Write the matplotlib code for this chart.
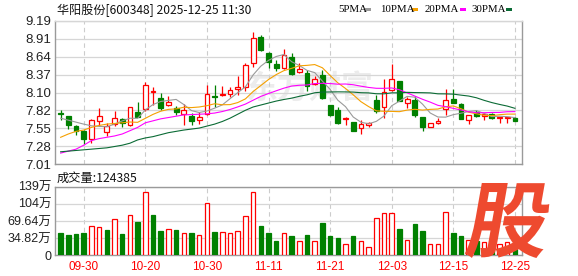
import matplotlib
matplotlib.use("Agg")
import matplotlib.pyplot as plt
from matplotlib.patches import Rectangle, PathPatch
from matplotlib.textpath import TextPath
from matplotlib.font_manager import FontProperties
import matplotlib.transforms as mtrans

plt.rcParams['font.family'] = ['Liberation Sans', 'Noto Sans CJK SC', 'DejaVu Sans']

# ---------------- data ----------------
title = "华阳股份[600348] 2025-12-25 11:30"
volume_title = "成交量:124385"

opens = [7.79, 7.74, 7.59, 7.509, 7.394, 7.665, 7.499, 7.624, 7.695, 7.604,
         7.805, 7.845, 8.11, 8.016, 7.905, 7.87, 7.78, 7.75, 7.675, 7.78,
         8.051, 8.056, 8.081, 8.146, 8.176, 8.543, 8.944, 8.703, 8.528, 8.478,
         8.634, 8.416, 8.39, 8.224, 8.36, 7.905, 7.834, 7.693, 7.647, 7.556,
         7.61, 7.986, 7.885, 8.138, 8.274, 7.936, 7.986, 7.733, 7.582, 7.642,
         7.85, 8.0, 7.92, 7.683, 7.80, 7.745, 7.768, 7.715, 7.708, 7.708]
highs = [7.84, 7.74, 7.60, 7.534, 7.695, 7.86, 7.644, 7.815, 7.715, 7.885,
         7.95, 8.257, 8.187, 8.091, 8.046, 7.89, 7.925, 7.795, 7.80, 8.217,
         8.217, 8.20, 8.176, 8.347, 8.553, 9.02, 8.979, 8.72, 8.593, 8.764,
         8.694, 8.543, 8.44, 8.35, 8.44, 7.915, 7.875, 7.733, 7.65, 7.683,
         7.657, 8.062, 8.30, 8.532, 8.28, 8.037, 8.047, 7.733, 7.642, 7.708,
         8.148, 8.148, 7.935, 7.76, 7.83, 7.79, 7.783, 7.722, 7.727, 7.723]
lows = [7.675, 7.55, 7.45, 7.323, 7.34, 7.59, 7.439, 7.594, 7.574, 7.594,
        7.725, 7.815, 7.915, 7.84, 7.895, 7.765, 7.614, 7.61, 7.625, 7.765,
        7.875, 8.05, 8.026, 8.066, 8.116, 8.487, 8.728, 8.467, 8.427, 8.46,
        8.36, 8.40, 8.128, 8.214, 8.0, 7.743, 7.622, 7.607, 7.52, 7.465,
        7.582, 7.794, 7.708, 8.128, 7.97, 7.86, 7.723, 7.52, 7.58, 7.622,
        7.76, 7.946, 7.693, 7.622, 7.73, 7.683, 7.70, 7.642, 7.642, 7.665]
closes = [7.78, 7.614, 7.514, 7.389, 7.675, 7.74, 7.584, 7.71, 7.634, 7.875,
          7.735, 8.22, 8.12, 7.87, 7.956, 7.81, 7.83, 7.66, 7.725, 8.071,
          8.026, 8.076, 8.131, 8.181, 8.518, 8.929, 8.743, 8.568, 8.478, 8.668,
          8.38, 8.457, 8.198, 8.305, 8.02, 7.76, 7.632, 7.708, 7.52, 7.625,
          7.635, 7.82, 8.113, 8.30, 7.976, 7.996, 7.76, 7.582, 7.632, 7.672,
          7.986, 7.946, 7.693, 7.76, 7.74, 7.77, 7.708, 7.72, 7.725, 7.672]
# volume in 万
volumes = [46.2, 42.2, 44.2, 46.2, 59.6, 57.6, 52.2, 73.7, 44.2, 81.7,
           68.3, 127.9, 82.4, 50.2, 53.6, 52.2, 45.5, 46.2, 41.5, 105.8,
           48.2, 47.5, 45.5, 49.6, 79.7, 127.9, 60.3, 46.2, 28.1, 45.5,
           40.2, 29.5, 42.2, 29.5, 66.3, 40.2, 34.2, 23.4, 40.2, 29.5,
           17.4, 75.7, 85.7, 85.7, 54.2, 31.5, 64.3, 50.2, 23.4, 23.4,
           87.7, 46.2, 40.2, 32.0, 30.0, 26.1, 25.0, 22.0, 27.5, 12.44]

ma5 = [7.71, 7.68, 7.65, 7.62, 7.594, 7.586, 7.580, 7.620, 7.669, 7.709,
       7.708, 7.835, 7.917, 7.964, 7.980, 7.995, 7.917, 7.825, 7.796, 7.819,
       7.862, 7.912, 8.006, 8.097, 8.186, 8.367, 8.500, 8.588, 8.647, 8.677,
       8.567, 8.510, 8.436, 8.402, 8.272, 8.148, 7.983, 7.885, 7.728, 7.649,
       7.624, 7.662, 7.743, 7.899, 7.969, 8.041, 8.029, 7.923, 7.789, 7.728,
       7.726, 7.764, 7.786, 7.811, 7.825, 7.782, 7.734, 7.740, 7.733, 7.719]
ma10 = [7.42, 7.47, 7.51, 7.53, 7.57, 7.60, 7.62, 7.63, 7.64, 7.652,
        7.647, 7.708, 7.768, 7.816, 7.844, 7.851, 7.876, 7.871, 7.880, 7.900,
        7.929, 7.914, 7.916, 7.947, 8.003, 8.115, 8.206, 8.297, 8.372, 8.432,
        8.467, 8.505, 8.512, 8.524, 8.475, 8.358, 8.247, 8.161, 8.065, 7.961,
        7.886, 7.822, 7.814, 7.813, 7.809, 7.833, 7.845, 7.833, 7.844, 7.849,
        7.884, 7.896, 7.854, 7.800, 7.777, 7.754, 7.749, 7.763, 7.772, 7.772]
ma20 = [7.18, 7.21, 7.24, 7.30, 7.37, 7.40, 7.42, 7.44, 7.47, 7.52,
        7.57, 7.64, 7.67, 7.70, 7.72, 7.74, 7.76, 7.765, 7.77, 7.776,
        7.788, 7.811, 7.842, 7.881, 7.924, 7.983, 8.041, 8.084, 8.126, 8.166,
        8.198, 8.210, 8.214, 8.236, 8.239, 8.236, 8.226, 8.229, 8.218, 8.196,
        8.177, 8.164, 8.163, 8.169, 8.142, 8.095, 8.046, 7.997, 7.954, 7.905,
        7.885, 7.859, 7.834, 7.807, 7.793, 7.793, 7.797, 7.798, 7.808, 7.810]
ma30 = [7.20, 7.21, 7.22, 7.23, 7.24, 7.25, 7.26, 7.28, 7.30, 7.33,
        7.38, 7.41, 7.43, 7.46, 7.49, 7.51, 7.53, 7.545, 7.56, 7.59,
        7.62, 7.66, 7.71, 7.77, 7.83, 7.88, 7.91, 7.94, 7.97, 7.994,
        8.014, 8.042, 8.065, 8.096, 8.107, 8.108, 8.110, 8.109, 8.106, 8.097,
        8.094, 8.081, 8.080, 8.095, 8.095, 8.102, 8.099, 8.097, 8.094, 8.080,
        8.079, 8.075, 8.060, 8.046, 8.020, 7.981, 7.947, 7.919, 7.894, 7.860]

date_positions = [3, 11, 19, 27, 35, 43, 51, 59]
date_labels = ["09-30", "10-20", "10-30", "11-11", "11-21", "12-03", "12-15", "12-25"]

price_ticks = [7.01, 7.2825, 7.555, 7.8275, 8.10, 8.3725, 8.645, 8.9175, 9.19]
price_tick_labels = ["7.01", "7.28", "7.55", "7.82", "8.10", "8.37", "8.64", "8.91", "9.19"]
vol_ticks = [0, 34.82, 69.64, 104.46, 139.28]
vol_tick_labels = ["0", "34.82万", "69.64万", "104万", "139万"]

ma_names = ["5PMA", "10PMA", "20PMA", "30PMA"]
ma_colors = ["#9a9a9a", "#f5a000", "#ff00ff", "#0b6b35"]

# ---------------- styling ----------------
RED = "#ff0000"
GREEN = "#008000"
GRID = "#d6d6d6"
SPINE = "#9a9a9a"
CJK = ['Noto Sans CJK SC', 'DejaVu Sans']

W, H = 578, 276
fig = plt.figure(figsize=(W / 100, H / 100), dpi=100)
fig.patch.set_facecolor("white")


def rect(l, t, r, b):
    return [l / W, 1 - b / H, (r - l) / W, (b - t) / H]


axp = fig.add_axes(rect(55, 20.7, 522, 164.3))
axv = fig.add_axes(rect(55, 186.7, 522, 255.3))

n = len(closes)
xs = list(range(n))

# watermark
axp.text(0.545, 0.52, "东方财富", transform=axp.transAxes, ha="center", va="center",
         fontsize=23, fontweight="bold", color="#ececec", family=CJK, zorder=0.5)

# candles
bw = 0.62
for i in xs:
    o, h, l, c = opens[i], highs[i], lows[i], closes[i]
    up = c >= o
    col = RED if up else GREEN
    axp.vlines(i, l, h, color=col, lw=0.9, zorder=3)
    bottom = min(o, c)
    height = max(abs(c - o), 0.006)
    axp.bar(i, height, bw, bottom=bottom, facecolor="white" if up else GREEN,
            edgecolor=col, lw=0.9, zorder=4)

for vals, col in zip([ma5, ma10, ma20, ma30], ma_colors):
    axp.plot(xs, vals, color=col, lw=0.8, zorder=5)

# volume
for i in xs:
    up = closes[i] >= (closes[i - 1] if i > 0 else opens[i])
    col = RED if up else GREEN
    axv.bar(i, volumes[i], 0.58, facecolor="white" if up else GREEN,
            edgecolor=col, lw=0.9, zorder=3)

for ax in (axp, axv):
    ax.set_xlim(-0.73, 59.92)
    ax.set_xticks(date_positions)
    ax.tick_params(axis="both", length=0)
    ax.yaxis.grid(True, color=GRID, lw=0.9, zorder=0)
    ax.xaxis.grid(True, color="#cccccc", lw=0.8, ls=(0, (4, 3)), zorder=0)
    ax.set_axisbelow(True)
    for s in ax.spines.values():
        s.set_color(SPINE)
        s.set_linewidth(1.0)

axp.spines["top"].set_color(GRID)
axp.set_ylim(7.01, 9.19)
axp.set_yticks(price_ticks)
axp.set_yticklabels(price_tick_labels, fontsize=9.5, color="#222222")
axp.tick_params(axis="y", pad=2.5)
axp.set_xticklabels([])

axv.set_ylim(0, 139.28)
axv.set_yticks(vol_ticks)
axv.set_yticklabels(vol_tick_labels, fontsize=9, color="#222222")
axv.tick_params(axis="y", pad=2.5)
axv.set_xticklabels(date_labels, fontsize=8.5, color=RED)
axv.tick_params(axis="x", pad=4)


def fig_text(x, y, s, **kw):
    fig.text(x / W, 1 - y / H, s, **kw)


fig_text(57, 10, title, fontsize=8.7, family=CJK, color="#111111", ha="left", va="center")
fig_text(57, 178, volume_title, fontsize=8.8, family=CJK, color="#111111", ha="left", va="center")

# legend
leg_x = [338, 380, 425, 471]
dash_x = [365, 412, 460, 506]
for name, col, lx, dx in zip(ma_names, ma_colors, leg_x, dash_x):
    fig_text(lx, 10, name, fontsize=7.8, family="Liberation Serif", color="#000000",
             ha="left", va="center")
    fig.add_artist(Rectangle((dx / W, 1 - 11 / H), 6 / W, 3 / H, transform=fig.transFigure,
                             facecolor=col, edgecolor="none"))

# "股" logo (bottom right)
fp = FontProperties(family="Noto Sans CJK SC", weight="bold")
tp = TextPath((0, 0), "股", size=1, prop=fp)
bb = tp.get_extents()
gw, gh = 78.0, 75.0
tr = (mtrans.Affine2D().translate(-bb.x0, -bb.y0)
      .scale(gw / bb.width, gh / bb.height)
      .skew_deg(10, 0)
      .translate(464, 18))
path = tr.transform_path(tp)
fig.add_artist(PathPatch(path, facecolor="#ee4a2f", edgecolor="none",
                         transform=mtrans.IdentityTransform(), zorder=10))

fig.savefig("out.png", dpi=100, facecolor="white")
